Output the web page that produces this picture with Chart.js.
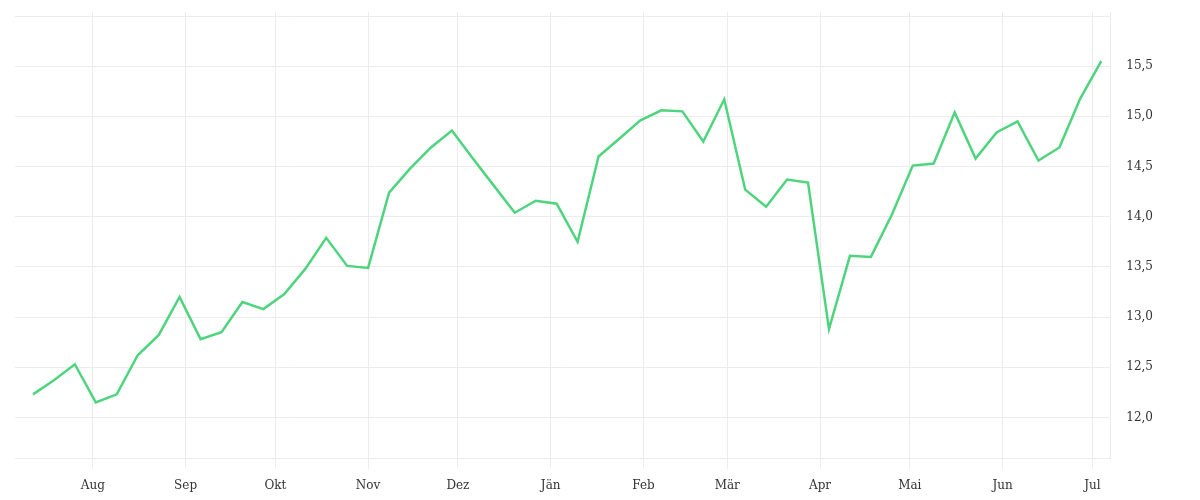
<!DOCTYPE html>
<html>
<head>
<meta charset="utf-8">
<script src="https://cdn.jsdelivr.net/npm/chart.js@4/dist/chart.umd.min.js"></script>
<style>
  html, body { margin: 0; padding: 0; background: #fff; }
  #wrap { width: 1200px; height: 500px; }
</style>
</head>
<body>
<div id="wrap"><canvas id="myChart"></canvas></div>
<script>
// weekly closing values
const dates = [
  '2018-07-12','2018-07-19','2018-07-26','2018-08-02','2018-08-09','2018-08-16','2018-08-23','2018-08-30',
  '2018-09-06','2018-09-13','2018-09-20','2018-09-27','2018-10-04','2018-10-11','2018-10-18','2018-10-25',
  '2018-11-01','2018-11-08','2018-11-15','2018-11-22','2018-11-29','2018-12-06','2018-12-13','2018-12-20',
  '2018-12-27','2019-01-03','2019-01-10','2019-01-17','2019-01-24','2019-01-31','2019-02-07','2019-02-14',
  '2019-02-21','2019-02-28','2019-03-07','2019-03-14','2019-03-21','2019-03-28','2019-04-04','2019-04-11',
  '2019-04-18','2019-04-25','2019-05-02','2019-05-09','2019-05-16','2019-05-23','2019-05-30','2019-06-06',
  '2019-06-13','2019-06-20','2019-06-27','2019-07-04'
]
const values = [
  12.23, 12.37, 12.53, 12.15, 12.23, 12.62, 12.82, 13.20, 12.78, 12.85,
  13.15, 13.08, 13.23, 13.48, 13.79, 13.51, 13.49, 14.24, 14.48, 14.69,
  14.86, 14.58, 14.31, 14.04, 14.16, 14.13, 13.75, 14.60, 14.78, 14.96,
  15.06, 15.05, 14.75, 15.17, 14.27, 14.10, 14.37, 14.34, 12.88, 13.61,
  13.60, 14.02, 14.51, 14.53, 15.04, 14.58, 14.84, 14.95, 14.56, 14.69,
  15.18, 15.55
]
const monthTicks = [
  '2018-08-01','2018-09-01','2018-10-01','2018-11-01','2018-12-01','2019-01-01',
  '2019-02-01','2019-03-01','2019-04-01','2019-05-01','2019-06-01','2019-07-01'
]
const monthLabels = ['Aug','Sep','Okt','Nov','Dez','Jän','Feb','Mär','Apr','Mai','Jun','Jul']
const yTickMin = 12.0
const yTickMax = 15.5

const gridColor = '#ececec'
const textColor = '#333333'

const ctx = document.getElementById('myChart')

const points = dates.map((d, i) => ({ x: Date.parse(d), y: values[i] }))

const data = {
  datasets: [{
    data: points,
    borderColor: '#4fd47e',
    backgroundColor: 'transparent',
    borderWidth: 2.5,
    pointRadius: 0,
    tension: 0
  }]
}

const config = {
  type: 'line',
  data: data,
  options: {
    responsive: true,
    maintainAspectRatio: false,
    animation: false,
    layout: { padding: { left: 15, right: 31, top: 12, bottom: -3 } },
    plugins: {
      legend: { display: false },
      tooltip: { enabled: false }
    },
    scales: {
      x: {
        type: 'linear',
        min: Date.parse('2018-07-06'),
        max: Date.parse('2019-07-07'),
        afterBuildTicks: (scale) => {
          scale.ticks = monthTicks.map(d => ({ value: Date.parse(d) }))
        },
        grid: { color: gridColor, tickLength: 10, tickColor: gridColor },
        border: { display: true, color: gridColor },
        ticks: {
          autoSkip: false,
          maxRotation: 0,
          padding: 10,
          color: textColor,
          font: { family: 'DejaVu Serif', size: 12 },
          callback: (v, i) => monthLabels[i]
        }
      },
      y: {
        position: 'right',
        min: 11.59,
        max: 16.04,
        afterFit: (scale) => {
          // labels sit well inside the area, no extra room needed above/below
          scale.paddingTop = 0
          scale.paddingBottom = 0
        },
        grid: { color: gridColor, drawTicks: false },
        border: { display: true, color: gridColor },
        ticks: {
          stepSize: 0.5,
          includeBounds: false,
          padding: 16,
          color: textColor,
          font: { family: 'DejaVu Serif', size: 12 },
          callback: (v) => (v < yTickMin || v > yTickMax) ? '' : v.toFixed(1).replace('.', ',')
        }
      }
    }
  }
}

const myChart = new Chart(ctx, config)
</script>
</body>
</html>
